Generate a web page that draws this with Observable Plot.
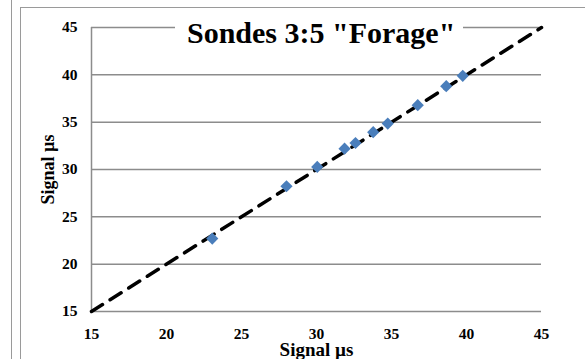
<!DOCTYPE html>
<html>
<head>
<meta charset="utf-8">
<script src="https://cdn.jsdelivr.net/npm/d3@7"></script>
<script src="https://cdn.jsdelivr.net/npm/@observablehq/plot@0.6"></script>
<style>
  html, body { margin: 0; padding: 0; background: #fff; }
  #wrap { position: relative; width: 585px; height: 359px; overflow: hidden; }
  #frame { position: absolute; left: 20px; top: 7px; width: 600px; height: 400px;
           border-left: 1.5px solid #9a9a9a; border-top: 1.5px solid #9a9a9a; }
  #frame2 { position: absolute; left: 11px; top: 0; width: 0; height: 359px;
            border-left: 1.5px solid #9a9a9a; }
  #title { position: absolute; left: 175px; top: 13px; padding: 0 8px 0 12px; background: #fff;
           font-family: "Liberation Serif", "Times New Roman", serif; font-weight: bold;
           font-size: 30px; color: #000; white-space: nowrap; line-height: 40px; }
  svg { position: absolute; left: 0; top: 0; }
</style>
</head>
<body>
<div id="wrap">
  <div id="frame2"></div>
  <div id="frame"></div>
</div>
<script>
const xValues = [23.05, 28.0, 30.05, 31.87, 32.6, 33.78, 34.75, 36.75, 38.65, 39.75];
const yValues = [22.7, 28.23, 30.27, 32.2, 32.8, 33.94, 34.85, 36.8, 38.8, 39.9];
const ticks = [15, 20, 25, 30, 35, 40, 45];
const diagonal = [15, 45];
const titleText = 'Sondes 3:5 "Forage"';
const axisLabel = "Signal µs";

const points = xValues.map((x, i) => ({x, y: yValues[i]}));
const line = diagonal.map(v => ({x: v, y: v}));

const chart = Plot.plot({
  width: 585,
  height: 359,
  marginLeft: 91,
  marginRight: 44,
  marginTop: 27,
  marginBottom: 48,
  style: {fontFamily: '"Liberation Serif", "Times New Roman", serif', fontSize: "15.5px", fontWeight: "bold", color: "#000", background: "transparent"},
  x: {domain: [15, 45], ticks, label: axisLabel, labelAnchor: "center", labelOffset: 44, labelArrow: "none"},
  y: {domain: [15, 45], ticks, label: axisLabel, labelAnchor: "center", labelOffset: 50, labelArrow: "none"},
  marks: [
    Plot.gridY(ticks, {stroke: "#8c8c8c", strokeOpacity: 1, strokeWidth: 1.5}),
    Plot.ruleX([15], {stroke: "#8c8c8c", strokeWidth: 1.5}),
    Plot.axisX({ticks, tickSize: 0, tickPadding: 16, label: axisLabel, labelAnchor: "center", labelOffset: 44, labelArrow: "none"}),
    Plot.axisY({ticks, tickSize: 0, tickPadding: 14, label: axisLabel, labelAnchor: "center", labelOffset: 50, labelArrow: "none"}),
    Plot.line(line, {x: "x", y: "y", stroke: "#000", strokeWidth: 3.5, strokeDasharray: "13,9"}),
    Plot.dot(points, {x: "x", y: "y", symbol: "diamond2", r: 5.5, fill: "#4a7ebb", stroke: "none"})
  ]
});
const wrap = document.getElementById("wrap");
wrap.appendChild(chart);
const svg = d3.select(chart);
svg.selectAll("g").each(function() {
  if (this.getAttribute("font-size")) this.removeAttribute("font-size");
});
svg.selectAll("text").style("font-size", "15.5px");
svg.selectAll('[aria-label="x-axis label"] text, text[aria-label="x-axis label"]').style("font-size", "19px");
svg.selectAll('[aria-label="y-axis label"] text, text[aria-label="y-axis label"]').style("font-size", "18px");
const t = document.createElement("div");
t.id = "title";
t.textContent = titleText;
wrap.appendChild(t);
</script>
</body>
</html>
